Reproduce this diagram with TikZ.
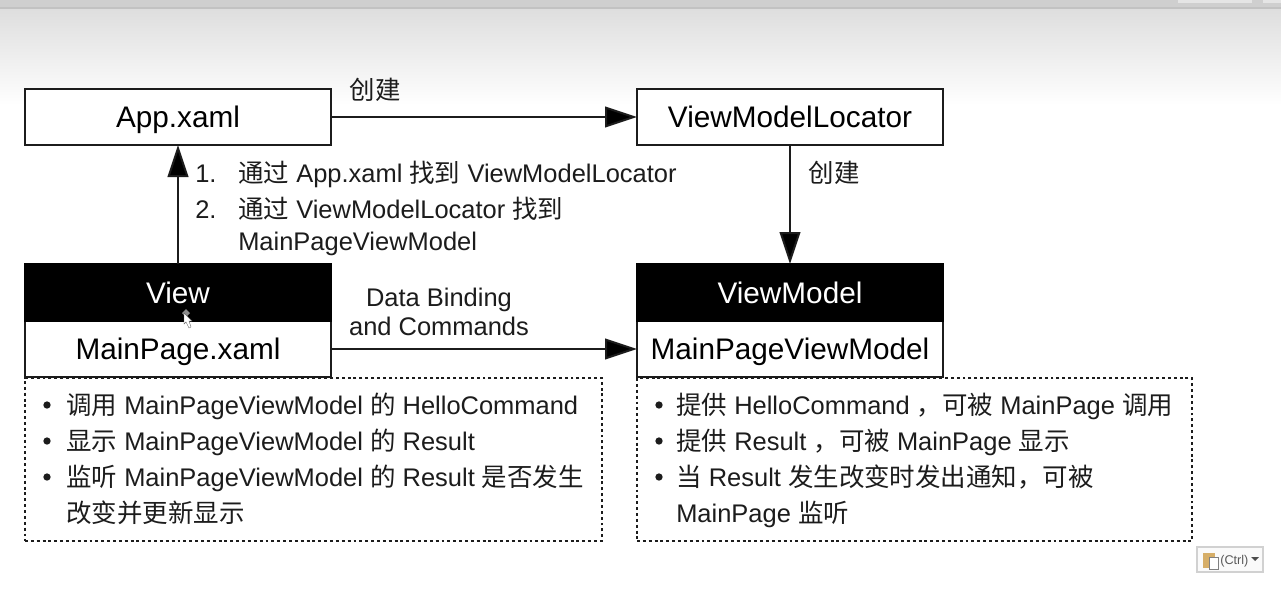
\documentclass[tikz,border=0pt]{standalone}
\usepackage{fontspec}
\setmainfont{Liberation Sans}
\newfontfamily\cjk{Noto Sans CJK SC}
\newcommand{\zh}[1]{{\cjk #1}}
\usetikzlibrary{arrows.meta}
\definecolor{ink}{HTML}{1C1C1C}
\definecolor{tan}{HTML}{D6AE68}
\tikzset{
  x=0.75pt,y=-0.75pt,
  box/.style={draw=ink,line width=1.5pt,fill=white,inner sep=0pt,outer sep=0pt,anchor=north west},
  headbox/.style={draw=black,line width=1.2pt,fill=black,inner sep=0pt,outer sep=0pt,anchor=north west},
  lbl/.style={font=\fontsize{22.3pt}{24pt}\selectfont,text=black,inner sep=0pt,anchor=base},
  headlbl/.style={lbl,text=white},
  note/.style={font=\fontsize{19.1pt}{21pt}\selectfont,text=ink,inner sep=0pt,anchor=base west},
  notec/.style={note,anchor=base},
  dotbox/.style={draw=ink,line width=1.5pt,dash pattern=on 2.2pt off 2.2pt,anchor=north west,inner sep=0pt,outer sep=0pt},
  conn/.style={draw=ink,line width=1.5pt,-{Triangle[length=24pt,width=15.5pt,fill=black]},shorten >=0pt},
  dotb/.style={circle,fill=ink,inner sep=0pt,minimum size=5.5pt}
}
\begin{document}
\begin{tikzpicture}
\useasboundingbox (0,0) rectangle (1281,600);
\fill[white] (0,0) rectangle (1281,600);
\shade[top color={rgb,255:red,222;green,222;blue,222},bottom color=white,shading angle=0] (0,9) rectangle (1281,105);
\fill[black!19] (0,0) rectangle (1281,8);
\fill[black!24] (0,7) rectangle (1281,9);
\fill[black!10] (1178,0) rectangle (1252,3);
\fill[black!10] (1263,0) rectangle (1281,3);

% dotted boxes (behind the solid ones)
\node[dotbox,minimum width=577*0.75pt,minimum height=163*0.75pt] (ldots) at (25,378) {};
\node[dotbox,minimum width=555*0.75pt,minimum height=163*0.75pt] (rdots) at (637,378) {};

% boxes
\node[box,minimum width=306*0.75pt,minimum height=56*0.75pt] (app) at (25,89) {};
\node[box,minimum width=306*0.75pt,minimum height=56*0.75pt] (loc) at (637,89) {};
\node[box,minimum width=306*0.75pt,minimum height=56*0.75pt] (mp) at (25,321) {};
\node[box,minimum width=306*0.75pt,minimum height=56*0.75pt] (mvm) at (637,321) {};
\node[headbox,minimum width=306*0.75pt,minimum height=57*0.75pt] (view) at (25,264) {};
\node[headbox,minimum width=306*0.75pt,minimum height=57*0.75pt] (vm) at (637,264) {};

% box labels
\node[lbl] (tapp) at (178,127) {App.xaml};
\node[lbl] (tloc) at (790,127) {ViewModelLocator};
\node[headlbl] (tview) at (178,303) {View};
\node[headlbl] (tvm) at (790,303) {ViewModel};
\node[lbl] (tmp) at (178,359) {MainPage.xaml};
\node[lbl] (tmvm) at (790,359) {MainPageViewModel};

% connectors
\draw[conn] (app.east) -- (loc.west);
\draw[conn] (loc.south) -- (vm.north);
\draw[conn] (view.north) -- (app.south);
\draw[conn] (mp.east) -- (mvm.west);

% connector labels
\node[notec] (c1) at (375,99) {\zh{创建}};
\node[notec] (c2) at (834,182) {\zh{创建}};
\node[notec] (d1) at (439,306) {Data Binding};
\node[notec] (d2) at (439,335) {and Commands};

\node[note] (n1) at (195,182) {1.};
\node[note] (s1) at (238,182) {\zh{通过} App.xaml \zh{找到} ViewModelLocator};
\node[note] (n2) at (195,218) {2.};
\node[note] (s2) at (238,218) {\zh{通过} ViewModelLocator \zh{找到}};
\node[note] (s3) at (238,250) {MainPageViewModel};

% left list
\node[dotb] (lb1) at (47,405) {};
\node[dotb] (lb2) at (47,441) {};
\node[dotb] (lb3) at (47,477) {};
\node[note] (l1) at (66,414) {\zh{调用} MainPageViewModel \zh{的} HelloCommand};
\node[note] (l2) at (66,450) {\zh{显示} MainPageViewModel \zh{的} Result};
\node[note] (l3) at (66,486) {\zh{监听} MainPageViewModel \zh{的} Result \zh{是否发生}};
\node[note] (l4) at (66,522) {\zh{改变并更新显示}};

% right list
\node[dotb] (rb1) at (659,405) {};
\node[dotb] (rb2) at (659,441) {};
\node[dotb] (rb3) at (659,477) {};
\node[note] (r1) at (676,414) {\zh{提供} HelloCommand \zh{，可被} MainPage \zh{调用}};
\node[note] (r2) at (676,450) {\zh{提供} Result \zh{，可被} MainPage \zh{显示}};
\node[note] (r3) at (676,486) {\zh{当} Result \zh{发生改变时发出通知，可被}};
\node[note] (r4) at (676,522) {MainPage \zh{监听}};

% pointer on the View box
\fill[black!45] (186,309) -- (190,313) -- (186,317) -- (182,313) -- cycle;
\fill[white,draw=black!60,line width=0.3pt] (184,313) -- (192,321) -- (189,321) -- (191,327) -- (189,328) -- (186,322) -- (184,324) -- cycle;

% paste button
\node[draw=black!18,line width=0.9pt,fill=black!2,anchor=north west,inner sep=0pt,outer sep=0pt,minimum width=66*0.75pt,minimum height=25*0.75pt] (paste) at (1197,547) {};
\fill[tan] (1203,553) rectangle (1215,568);
\fill[white,draw=black!50,line width=0.4pt] (1209,557) rectangle (1218,569);
\node[font=\fontsize{9.5pt}{10pt}\selectfont,text=black!65,inner sep=0pt,anchor=base west] (ctrl) at (1220,564) {(Ctrl)};
\fill[black!70] (1251,557) -- (1259,557) -- (1255,561) -- cycle;
\end{tikzpicture}
\end{document}
